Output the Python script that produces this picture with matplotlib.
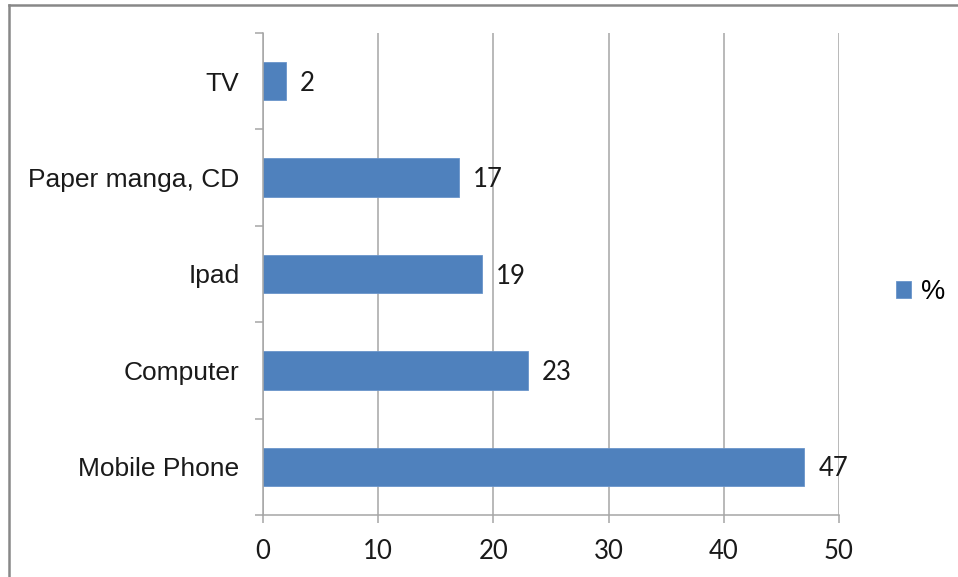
import matplotlib
matplotlib.use("Agg")
import matplotlib.pyplot as plt
from matplotlib.lines import Line2D
from matplotlib.patches import Patch

categories = ["Mobile Phone", "Computer", "Ipad", "Paper manga, CD", "TV"]
values = [47, 23, 19, 17, 2]
x_ticks = [0, 10, 20, 30, 40, 50]
series_name = "%"

BAR = "#4F81BD"
GRID = "#A6A6A6"
W, H, DPI = 958, 577, 100

fig = plt.figure(figsize=(W / DPI, H / DPI), dpi=DPI)
ax = fig.add_axes([263 / W, 1 - 515 / H, (839 - 263) / W, (515 - 33) / H])

pos = list(range(len(categories)))
ax.barh(pos, values, height=0.4, color=BAR, edgecolor="#6A95CB", linewidth=0.6,
        zorder=3, label=series_name)

for p, v in zip(pos, values):
    ax.annotate(f"{v}", xy=(v, p), xytext=(10, -1.5), textcoords="offset points",
                va="center", ha="left", fontsize=18.5, family="Lato", color="#1a1a1a",
                zorder=4)

ax.set_xlim(0, 50)
ax.set_ylim(-0.5, len(categories) - 0.5)
ax.set_xticks(x_ticks)
ax.set_xticklabels([str(t) for t in x_ticks], family="Lato", fontsize=18.5, color="#1a1a1a")
ax.tick_params(axis="x", direction="out", length=5.5, width=1.1, color=GRID, pad=12)

# category boundaries carry the tick marks, labels sit at bar centres
ax.set_yticks([i - 0.5 for i in range(len(categories) + 1)])
ax.set_yticklabels([])
ax.tick_params(axis="y", which="major", direction="out", length=5.5, width=1.1, color=GRID)
ax.set_yticks(pos, minor=True)
ax.set_yticklabels(categories, minor=True, family="Liberation Sans", fontsize=19,
                   color="#1a1a1a")
ax.tick_params(axis="y", which="minor", length=0, pad=17)

ax.grid(axis="x", color=GRID, linewidth=1.1, zorder=0)
ax.grid(axis="y", visible=False)
for side in ("top", "right"):
    ax.spines[side].set_visible(False)
for side in ("left", "bottom"):
    ax.spines[side].set_color(GRID)
    ax.spines[side].set_linewidth(1.1)
    ax.spines[side].set_zorder(5)

handle = Patch(facecolor=BAR, edgecolor="#6A95CB", linewidth=0.6)
fig.legend([handle], [series_name], loc="center left", bbox_to_anchor=(896 / W, 1 - 292 / H),
           frameon=False, handlelength=0.57, handleheight=0.57, handletextpad=0.35,
           borderpad=0.0, borderaxespad=0.0, prop={"family": "Liberation Sans", "size": 19.5})

# chart frame: left and top edges
fig.add_artist(Line2D([8.5 / W, 8.5 / W], [0, 1 - 5 / H], transform=fig.transFigure,
                      color="#888888", linewidth=1.8))
fig.add_artist(Line2D([8.5 / W, 1], [1 - 5 / H, 1 - 5 / H], transform=fig.transFigure,
                      color="#888888", linewidth=1.8))

fig.savefig("out.png", dpi=DPI, facecolor="white")
